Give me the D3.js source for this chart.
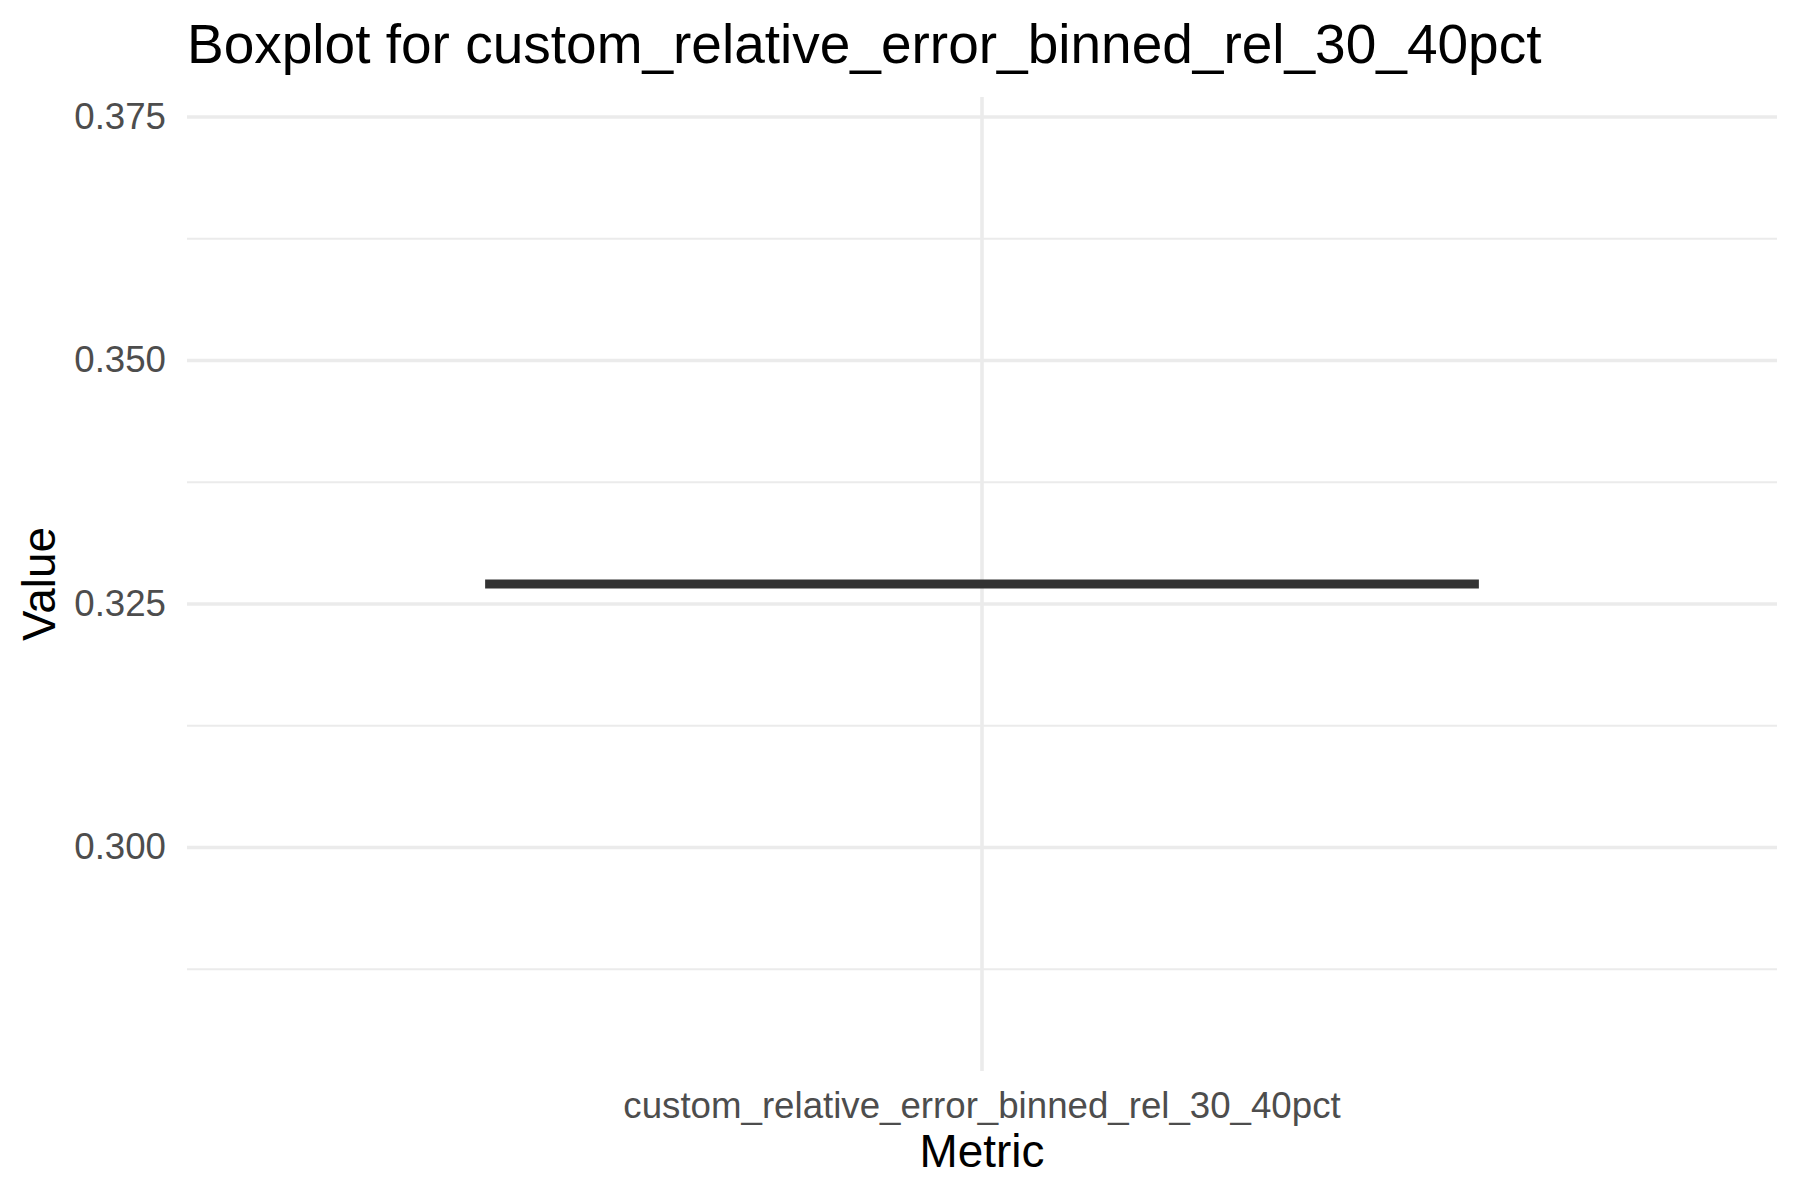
<!DOCTYPE html>
<html>
<head>
<meta charset="utf-8">
<script src="https://cdn.jsdelivr.net/npm/d3@7"></script>
<style>
  html, body { margin: 0; padding: 0; background: #ffffff; }
  svg { display: block; font-family: "Liberation Sans", Arial, sans-serif; }
</style>
</head>
<body>
<svg id="chart" width="1800" height="1200"></svg>
<script>
// ---- data ----
const categories = ["custom_relative_error_binned_rel_30_40pct"];
const lowerWhisker = [0.327];
const q1 = [0.327];
const medians = [0.327];
const q3 = [0.327];
const upperWhisker = [0.327];
const yDomain = [0.277, 0.377];
const yMajorTicks = [0.300, 0.325, 0.350, 0.375];
const yMinorTicks = [0.2875, 0.3125, 0.3375, 0.3625];
const titleText = "Boxplot for custom_relative_error_binned_rel_30_40pct";
const xTitle = "Metric";
const yTitle = "Value";

// ---- layout ----
const W = 1800, H = 1200;
const panel = { left: 187, right: 1777, top: 97, bottom: 1071 };
const svg = d3.select("#chart");

const x = d3.scaleBand().domain(categories)
  .range([panel.left, panel.right])
  .paddingInner(0.25).paddingOuter(0.225);
const y = d3.scaleLinear().domain(yDomain).range([panel.bottom, panel.top]);

const gridColor = "#EBEBEB";

// minor gridlines
svg.append("g")
  .attr("transform", `translate(${panel.left},0)`)
  .call(d3.axisLeft(y).tickValues(yMinorTicks).tickSize(-(panel.right - panel.left)).tickFormat(""))
  .call(g => g.select(".domain").remove())
  .call(g => g.selectAll("line").attr("stroke", gridColor).attr("stroke-width", 1.8));

// major gridlines
svg.append("g")
  .attr("transform", `translate(${panel.left},0)`)
  .call(d3.axisLeft(y).tickValues(yMajorTicks).tickSize(-(panel.right - panel.left)).tickFormat(""))
  .call(g => g.select(".domain").remove())
  .call(g => g.selectAll("line").attr("stroke", gridColor).attr("stroke-width", 3.6));

// vertical major gridline at category
svg.append("g")
  .attr("transform", `translate(0,${panel.bottom})`)
  .call(d3.axisBottom(x).tickSize(-(panel.bottom - panel.top)).tickFormat(""))
  .call(g => g.select(".domain").remove())
  .call(g => g.selectAll("line").attr("stroke", gridColor).attr("stroke-width", 3.6));

// y tick labels
svg.append("g")
  .attr("transform", `translate(${panel.left},0)`)
  .call(d3.axisLeft(y).tickValues(yMajorTicks).tickSize(0).tickPadding(21).tickFormat(d3.format(".3f")))
  .call(g => g.select(".domain").remove())
  .call(g => g.selectAll("text")
    .attr("fill", "#4D4D4D")
    .style("font-size", "36.67px")
    .style("font-family", "'Liberation Sans', Arial, sans-serif"));

// x tick labels
svg.append("g")
  .attr("transform", `translate(0,${panel.bottom})`)
  .call(d3.axisBottom(x).tickSize(0).tickPadding(21))
  .call(g => g.select(".domain").remove())
  .call(g => g.selectAll("text")
    .attr("fill", "#4D4D4D")
    .style("font-size", "36.67px")
    .style("font-family", "'Liberation Sans', Arial, sans-serif"));

// boxplot
const boxData = categories.map((c, i) => ({
  c, lo: lowerWhisker[i], q1: q1[i], med: medians[i], q3: q3[i], hi: upperWhisker[i]
}));
const boxG = svg.append("g");
boxData.forEach(d => {
  const cx = x(d.c) + x.bandwidth() / 2;
  // whiskers
  boxG.append("line")
    .attr("x1", cx).attr("x2", cx)
    .attr("y1", y(d.q3)).attr("y2", y(d.hi))
    .attr("stroke", "#333333").attr("stroke-width", 4.5);
  boxG.append("line")
    .attr("x1", cx).attr("x2", cx)
    .attr("y1", y(d.q1)).attr("y2", y(d.lo))
    .attr("stroke", "#333333").attr("stroke-width", 4.5);
  // box
  boxG.append("rect")
    .attr("x", x(d.c)).attr("width", x.bandwidth())
    .attr("y", y(d.q3)).attr("height", Math.max(0, y(d.q1) - y(d.q3)))
    .attr("fill", "#FFFFFF").attr("stroke", "#333333").attr("stroke-width", 4.5);
  // median
  boxG.append("line")
    .attr("x1", x(d.c)).attr("x2", x(d.c) + x.bandwidth())
    .attr("y1", y(d.med)).attr("y2", y(d.med))
    .attr("stroke", "#333333").attr("stroke-width", 9)
    .attr("stroke-linecap", "butt");
});

// titles
svg.append("text")
  .attr("x", panel.left).attr("y", 63)
  .attr("fill", "#000000")
  .style("font-size", "55px")
  .text(titleText);

svg.append("text")
  .attr("x", (panel.left + panel.right) / 2).attr("y", 1167)
  .attr("text-anchor", "middle")
  .attr("fill", "#000000")
  .style("font-size", "45.83px")
  .text(xTitle);

svg.append("text")
  .attr("transform", `translate(55,${(panel.top + panel.bottom) / 2}) rotate(-90)`)
  .attr("text-anchor", "middle")
  .attr("fill", "#000000")
  .style("font-size", "45.83px")
  .text(yTitle);
</script>
</body>
</html>
